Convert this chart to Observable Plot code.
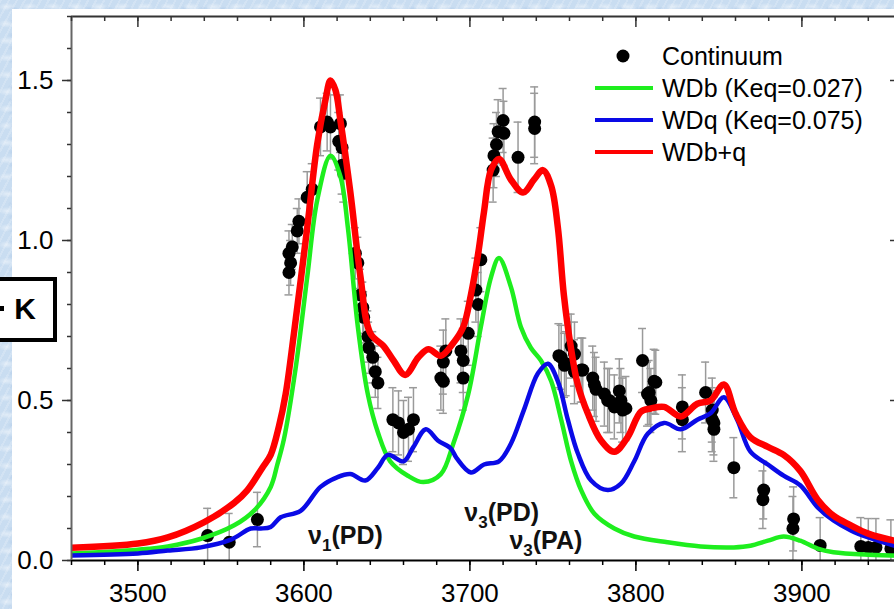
<!DOCTYPE html>
<html>
<head>
<meta charset="utf-8">
<script src="https://cdn.jsdelivr.net/npm/d3@7"></script>
<script src="https://cdn.jsdelivr.net/npm/@observablehq/plot@0.6"></script>
<style>
html,body{margin:0;padding:0;width:894px;height:609px;overflow:hidden;
  background-color:#c9ddf1;
  background-image:
    radial-gradient(ellipse 9px 4px at 30% 40%, rgba(255,255,255,0.45), rgba(255,255,255,0) 100%),
    radial-gradient(ellipse 6px 3px at 70% 70%, rgba(160,190,225,0.4), rgba(255,255,255,0) 100%),
    repeating-linear-gradient(118deg, rgba(255,255,255,0.18) 0 2px, rgba(255,255,255,0) 2px 7px);
  background-size: 23px 17px, 19px 13px, auto;
}
#panel{position:absolute;left:12px;top:9px;width:900px;height:620px;background:#fff;}
#chart{position:absolute;left:0;top:0;}
#chart svg{max-width:none !important;}
#overlay{position:absolute;left:0;top:0;}
</style>
</head>
<body>
<div id="panel"></div>
<div id="chart"></div>
<svg id="overlay" width="894" height="609"></svg>
<script>
// ---------- data ----------
const contX = [3542,3555,3572,3591,3592,3591,3593,3596,3597,3602,3605,3610,3614,3616,3622,3621,3623,3623,3624,
  3631,3632.5,3634,3635.5,3636,3638.5,3639,3641.5,3643,3644.6,3653.6,3657,3660,3663,3666,
  3682.5,3684,3685.5,3684,3694.6,3696,3696,3699,3703.6,3705,3706.6,3714,3714.5,3716,3717,3720,3720.5,3729,3739,3739,
  3753.6,3755,3757,3758,3761,3763,3763,3767,3768,3774,3775,3776,3781,3783,3784,3787,3790,3791,3792,3794,
  3804,3807,3808,3809,3811,3812,3828,3828,3842,3846,3846,3847,3847,3859,3877,3876.5,3895,3894.6,3911,
  3935.5,3940,3944.6,3953.6];
const contY = [0.078,0.057,0.128,0.90,0.93,0.96,0.98,1.03,1.06,1.135,1.16,1.355,1.37,1.355,1.365,1.31,1.29,1.235,1.21,
  0.96,0.93,0.83,0.79,0.76,0.70,0.665,0.635,0.59,0.555,0.44,0.43,0.40,0.41,0.44,
  0.57,0.62,0.655,0.56,0.655,0.625,0.57,0.71,0.845,0.80,0.94,1.22,1.265,1.30,1.34,1.375,1.335,1.26,1.37,1.35,
  0.64,0.635,0.61,0.615,0.67,0.645,0.59,0.595,0.595,0.57,0.55,0.535,0.52,0.50,0.50,0.48,0.53,0.50,0.47,0.475,
  0.625,0.52,0.525,0.50,0.56,0.557,0.48,0.44,0.525,0.47,0.44,0.41,0.43,0.29,0.22,0.19,0.13,0.10,0.047,
  0.044,0.041,0.041,0.037];
const contErr = [0.085,0.09,0.085,0.07,0.07,0.07,0.07,0.07,0.07,0.08,0.08,0.09,0.09,0.1,0.09,0.09,0.09,0.09,0.09,
  0.08,0.08,0.08,0.08,0.08,0.08,0.08,0.08,0.08,0.08,0.1,0.1,0.1,0.1,0.1,
  0.1,0.1,0.1,0.1,0.1,0.1,0.1,0.1,0.1,0.1,0.1,0.1,0.1,0.1,0.1,0.1,0.1,0.11,0.11,0.11,
  0.1,0.1,0.1,0.1,0.1,0.1,0.1,0.1,0.1,0.1,0.1,0.1,0.1,0.1,0.1,0.1,0.1,0.1,0.1,0.1,
  0.1,0.1,0.1,0.1,0.1,0.1,0.1,0.1,0.095,0.1,0.1,0.1,0.1,0.094,0.09,0.09,0.1,0.1,0.087,
  0.09,0.09,0.09,0.09];

const wdbX = [3460,3500,3518,3538,3558,3570,3580,3584,3588,3595,3602,3608,3616,3622,3626.5,3632.5,3638.5,3644.6,3652,3662.6,3672,
  3682.5,3690,3699,3706.6,3712.7,3717.5,3724.7,3730.7,3736.7,3742.8,3749,3755,3761,3767,3775,3787,3799,3819,3839,3859,3869,3879.5,3889,3899,3909.5,3919,3940,3960];
const wdbY = [0.022,0.034,0.044,0.068,0.11,0.156,0.23,0.30,0.38,0.60,0.885,1.125,1.265,1.20,1.04,0.73,0.52,0.40,0.31,0.265,0.245,
  0.27,0.365,0.52,0.73,0.885,0.945,0.855,0.73,0.665,0.625,0.56,0.44,0.31,0.22,0.146,0.10,0.075,0.057,0.044,0.041,0.046,0.062,0.075,0.062,0.037,0.026,0.018,0.015];

const wdqX = [3460,3500,3518,3538,3556,3568,3574,3580,3586,3598,3610,3620,3628,3637,3644.6,3650.6,3660,3666,3673.5,3680.7,3688.5,3692,3700.6,3708.5,3717.5,
  3724.7,3732.5,3741,3747,3753,3759,3765,3773,3783,3791,3799,3807,3817,3827,3837,3845,3853,3861,3869,3879.5,3889,3899,3909.5,3919,3929.5,3940,3955.5,3960];
const wdqY = [0.016,0.022,0.031,0.041,0.065,0.10,0.10,0.105,0.135,0.155,0.23,0.26,0.27,0.25,0.29,0.33,0.31,0.355,0.41,0.375,0.35,0.32,0.275,0.30,0.31,
  0.365,0.47,0.585,0.615,0.56,0.44,0.335,0.25,0.22,0.24,0.31,0.395,0.43,0.41,0.44,0.46,0.51,0.44,0.34,0.30,0.265,0.235,0.166,0.125,0.094,0.072,0.047,0.042];

const sumX = [3460,3500,3518,3540,3558,3566,3575,3580,3585,3589,3594,3602,3608,3613,3616,3619,3622,3628,3634,3640,3648,3654,3661,3669,3675,3682.5,3690,3696,3700.6,3705,3708.5,3712.7,3717.5,3724.7,3732,3738.6,3744,3749,3753,3756.6,3761,3765,3771,3779,3787,3795,3803,3809,3817,3827,3837,3845,3853,3860,3869,3879.5,3889,3899,3909.5,3919,3929.5,3940,3955.5,3960];
const sumY = [0.04,0.053,0.072,0.12,0.18,0.22,0.29,0.33,0.42,0.52,0.71,1.04,1.30,1.44,1.50,1.47,1.375,1.15,0.89,0.71,0.67,0.625,0.58,0.635,0.66,0.64,0.68,0.73,0.83,0.96,1.09,1.22,1.255,1.19,1.15,1.19,1.22,1.17,1.04,0.83,0.66,0.55,0.46,0.375,0.34,0.385,0.465,0.475,0.48,0.45,0.49,0.50,0.55,0.46,0.385,0.355,0.33,0.28,0.19,0.14,0.11,0.084,0.062,0.058];

const xMajor = [3500,3600,3700,3800,3900];
const yMajor = [0,0.5,1.0,1.5];
const xMinor = d3.range(3460, 3961, 20);
const yMinor = d3.range(0, 18).map(i => i / 10);

const seriesNames = ["Continuum", "WDb (Keq=0.027)", "WDq (Keq=0.075)", "WDb+q"];
const seriesColors = ["#000000", "#1eee1e", "#0a0ae6", "#ff0000"];

const bandBase = ["ν", "ν", "ν"];
const bandSub = ["1", "3", "3"];
const bandRest = ["(PD)", "(PD)", "(PA)"];
const bandX = [3602.5, 3696.6, 3723.8];
const bandY = [0.053, 0.122, 0.037];

const boxLabel = "K";

// ---------- tables ----------
const cont = contX.map((x, i) => ({x, y: contY[i], e: contErr[i]}));
const wdb = wdbX.map((x, i) => ({x, y: wdbY[i]}));
const wdq = wdqX.map((x, i) => ({x, y: wdqY[i]}));
const sum = sumX.map((x, i) => ({x, y: sumY[i]}));
const bands = bandX.map((x, i) => ({x, y: bandY[i], text: bandBase[i] + bandSub[i] + bandRest[i], i}));

const W = 920, H = 609, mL = 71, mR = 19, mT = 16, mB = 49;
const iw = W - mL - mR, ih = H - mT - mB;
const capHalf = 2.4;
const font = "'Liberation Sans', Arial, sans-serif";

const chart = Plot.plot({
  width: W, height: H,
  marginLeft: mL, marginRight: mR, marginTop: mT, marginBottom: mB,
  x: {domain: [3460, 3960]},
  y: {domain: [0, 1.7]},
  style: {fontFamily: font, background: "transparent", color: "#000", overflow: "visible", maxWidth: "none"},
  marks: [
    // error bars
    Plot.ruleX(cont, {x: "x", y1: d => d.y - d.e, y2: d => d.y + d.e, stroke: "#9a9a9a", strokeWidth: 1.5, clip: true}),
    Plot.ruleY(cont, {y: d => d.y + d.e, x1: d => d.x - capHalf, x2: d => d.x + capHalf, stroke: "#9a9a9a", strokeWidth: 1.5, clip: true}),
    Plot.ruleY(cont, {y: d => d.y - d.e, x1: d => d.x - capHalf, x2: d => d.x + capHalf, stroke: "#9a9a9a", strokeWidth: 1.5, clip: true}),
    Plot.dot(cont, {x: "x", y: "y", r: 6.5, fill: "#000", stroke: "none"}),
    // model curves
    Plot.line(wdb, {x: "x", y: "y", stroke: seriesColors[1], strokeWidth: 4.5, curve: "catmull-rom", clip: true}),
    Plot.line(wdq, {x: "x", y: "y", stroke: seriesColors[2], strokeWidth: 4.5, curve: "catmull-rom", clip: true}),
    Plot.line(sum, {x: "x", y: "y", stroke: seriesColors[3], strokeWidth: 6.5, curve: "catmull-rom", clip: true}),
    // band labels
    Plot.text(bands, {x: "x", y: "y", text: "text", textAnchor: "start", lineAnchor: "bottom", fontSize: 25, fontWeight: "bold", fill: "#111"}),
    // axes lines
    Plot.ruleY([0], {stroke: "#000", strokeWidth: 2}),
    Plot.ruleY([1.7], {stroke: "#333", strokeWidth: 2}),
    Plot.ruleX([3460], {stroke: "#666", strokeWidth: 2}),
    Plot.ruleX([3960], {stroke: "#333", strokeWidth: 2}),
    // bottom ticks (outward)
    Plot.tickX(xMajor, {x: d => d, insetTop: ih, insetBottom: -11, stroke: "#000", strokeWidth: 1.5}),
    Plot.tickX(xMinor, {x: d => d, insetTop: ih, insetBottom: -5, stroke: "#000", strokeWidth: 1.5}),
    // top ticks (inward)
    Plot.tickX(xMajor, {x: d => d, insetBottom: ih - 11, stroke: "#333", strokeWidth: 1.5}),
    Plot.tickX(xMinor, {x: d => d, insetBottom: ih - 5, stroke: "#333", strokeWidth: 1.5}),
    // left ticks (outward)
    Plot.tickY(yMajor, {y: d => d, insetRight: iw, insetLeft: -9, stroke: "#333", strokeWidth: 1.5}),
    Plot.tickY(yMinor, {y: d => d, insetRight: iw, insetLeft: -4, stroke: "#333", strokeWidth: 1.5}),
    // right ticks (inward)
    Plot.tickY(yMajor, {y: d => d, insetLeft: iw - 11, stroke: "#333", strokeWidth: 1.5}),
    Plot.tickY(yMinor, {y: d => d, insetLeft: iw - 5, stroke: "#333", strokeWidth: 1.5}),
    // tick labels
    Plot.axisX(xMajor, {anchor: "bottom", tickSize: 0, tickPadding: 23, fontSize: 26, tickFormat: d => String(d), label: null}),
    Plot.axisY(yMajor, {anchor: "left", tickSize: 0, tickPadding: 18, fontSize: 26, tickFormat: d3.format(".1f"), label: null})
  ]
});
chart.style.maxWidth = "none";
document.getElementById("chart").appendChild(chart);

// subscripts for band labels
d3.select(chart).selectAll("text").each(function() {
  const t = this.textContent;
  const i = bands.findIndex(b => b.text === t);
  if (i < 0) return;
  const el = d3.select(this);
  el.text(null);
  el.append("tspan").text(bandBase[i]);
  el.append("tspan").attr("font-size", 17).attr("dy", 7).text(bandSub[i]);
  el.append("tspan").attr("dy", -7).text(bandRest[i]);
});

// ---------- overlay: legend and boxed label ----------
const ov = d3.select("#overlay").style("font-family", font);
const rows = [56, 88, 120, 152];
ov.append("circle").attr("cx", 623).attr("cy", rows[0]).attr("r", 6.5).attr("fill", seriesColors[0]);
for (let k = 1; k < 4; k++) {
  ov.append("line").attr("x1", 595).attr("x2", 653).attr("y1", rows[k]).attr("y2", rows[k])
    .attr("stroke", seriesColors[k]).attr("stroke-width", 4);
}
seriesNames.forEach((n, k) => {
  ov.append("text").attr("x", 662).attr("y", rows[k] + 9).attr("font-size", 25).attr("fill", "#000").text(n);
});
// boxed K (its left part runs off the picture, as in the source)
ov.append("rect").attr("x", -10).attr("y", 279).attr("width", 65).attr("height", 61)
  .attr("fill", "#fff").attr("stroke", "#000").attr("stroke-width", 4);
ov.append("rect").attr("x", 0).attr("y", 306).attr("width", 4).attr("height", 5).attr("fill", "#000");
ov.append("text").attr("x", 36).attr("y", 319).attr("text-anchor", "end")
  .attr("font-size", 30).attr("font-weight", "bold").attr("fill", "#000").text(boxLabel);
</script>
</body>
</html>
